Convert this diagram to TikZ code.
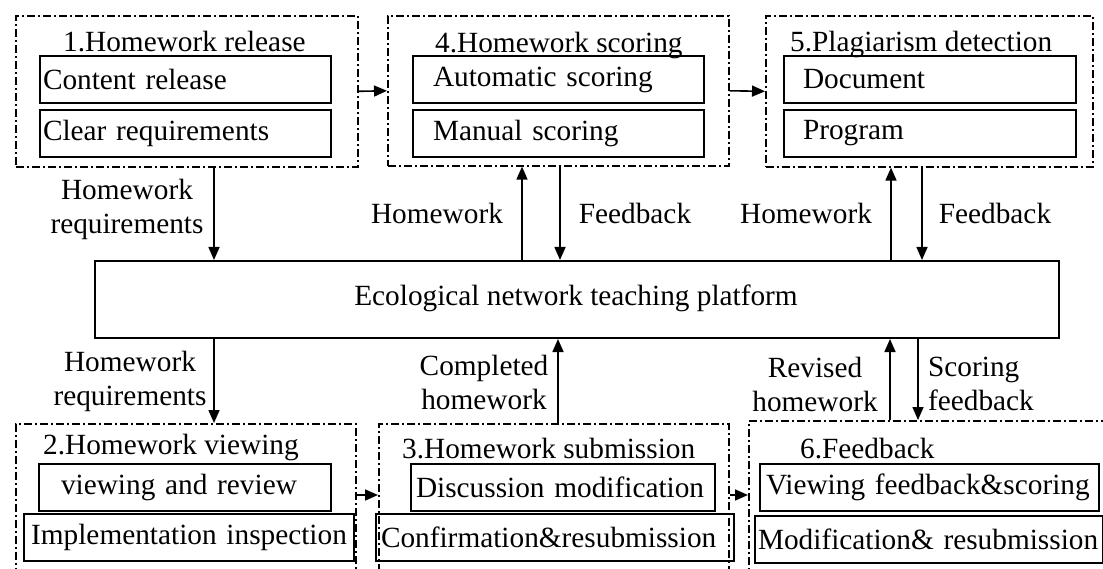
\documentclass[tikz,border=0pt]{standalone}
\usepackage{fontspec}
\setmainfont{Liberation Serif}
\usetikzlibrary{arrows.meta}
\begin{document}
\begin{tikzpicture}[x=1pt,y=-1pt,
 every node/.style={font=\fontsize{29.3}{34}\selectfont},
 outer/.style={draw, line width=1.6pt, dash pattern=on 8pt off 3pt on 2pt off 3pt, anchor=north west, inner sep=0pt},
 inbox/.style={draw, line width=2pt, anchor=north west, minimum height=47pt, inner ysep=0pt, align=left},
 ttl/.style={anchor=base west, inner sep=0pt},
 lbl/.style={align=center, inner sep=0pt},
 arr/.style={line width=1.6pt, -{Triangle[length=13pt,width=11pt]}}]
\useasboundingbox (0,0) rectangle (1103,569);
\clip (0,0) rectangle (1103,569);

% top groups
\node[outer, minimum width=342pt, minimum height=151pt] (b1) at (15,15) {};
\node[ttl] (t1) at (63,52) {1.Homework release};
\node[inbox, inner xsep=3pt, text width=285pt] (cr) at (39,55) {\mbox{Content release}};
\node[inbox, inner xsep=3pt, text width=285pt] (rq) at (39,109) {\mbox{Clear requirements}};

\node[outer, minimum width=341pt, minimum height=150pt] (b4) at (387,15) {};
\node[ttl] (t4) at (435,53) {4.Homework scoring};
\node[inbox, inner xsep=20pt, text width=251pt] (as) at (412,55) {\mbox{Automatic scoring}};
\node[inbox, inner xsep=20pt, text width=251pt] (ms) at (412,109) {\mbox{Manual scoring}};

\node[outer, minimum width=327pt, minimum height=151pt] (b5) at (765,15) {};
\node[ttl] (t5) at (790,52) {5.Plagiarism detection};
\node[inbox, inner xsep=19pt, text width=254pt] (dc) at (783,55) {Document};
\node[inbox, inner xsep=19pt, text width=254pt] (pg) at (783,109) {Program};

% platform
\node[draw, line width=2pt, minimum width=964pt, minimum height=77pt, anchor=north west] (plat) at (94,260) {};
\node[inner sep=0pt] (pt) at (576,298) {Ecological network teaching platform};

% bottom groups
\node[outer, minimum width=340pt, minimum height=200pt] (b2) at (15,423) {};
\node[ttl] (t2) at (43,454) {2.Homework viewing};
\node[inbox, inner xsep=22pt, text width=248pt] (vr) at (38,463) {\mbox{viewing and review}};
\node[inbox, inner xsep=7pt, text width=316pt, align=center] (ii) at (23,513) {\mbox{Implementation inspection}};

\node[outer, minimum width=350pt, minimum height=200pt] (b3) at (378,423) {};
\node[ttl] (t3) at (402,458) {3.Homework submission};
\node[inbox, inner xsep=5pt, text width=294pt] (dm) at (410,463) {\mbox{Discussion modification}};
\node[inbox, inner xsep=5pt, text width=348pt] (cs) at (375,513) {\mbox{Confirmation\&resubmission}};

\node[outer, minimum width=400pt, minimum height=200pt] (b6) at (748,420) {};
\node[ttl] (t6) at (800,458) {6.Feedback};
\node[inbox, inner xsep=6pt, text width=327pt] (vf) at (759,463) {\mbox{Viewing feedback\&scoring}};
\node[inbox, inner xsep=3pt, text width=342pt] (mr) at (754,515) {\mbox{Modification\& resubmission}};

% labels
\node[lbl] (l1) at (127,209) {Homework\\requirements};
\node[lbl] (l2) at (437,213) {Homework};
\node[lbl] (l3) at (635,213) {Feedback};
\node[lbl] (l4) at (806,213) {Homework};
\node[lbl] (l5) at (995,213) {Feedback};
\node[lbl] (l6) at (130,381) {Homework\\requirements};
\node[lbl] (l7) at (484,382) {Completed\\homework};
\node[lbl] (l8) at (815,384) {Revised\\homework};
\node[lbl, align=left] (l9) at (981,384) {Scoring\\feedback};

% connector x positions
\coordinate (xa) at (214,0);
\coordinate (xb) at (522,0);
\coordinate (xc) at (560,0);
\coordinate (xd) at (891,0);
\coordinate (xe) at (922,0);
\coordinate (xf) at (558,0);
\coordinate (xg) at (890,0);
\coordinate (xh) at (918,0);
\coordinate (yb) at (0,495);

% arrows top row
\draw[arr] (b1.east) -- (b4.west);
\draw[arr] (b4.east) -- (b5.west);
\draw[arr] (b1.south -| xa) -- (plat.north -| xa);
\draw[arr] (plat.north -| xb) -- (b4.south -| xb);
\draw[arr] (b4.south -| xc) -- (plat.north -| xc);
\draw[arr] (plat.north -| xd) -- (b5.south -| xd);
\draw[arr] (b5.south -| xe) -- (plat.north -| xe);

% arrows bottom row
\draw[arr] (plat.south -| xa) -- (b2.north -| xa);
\draw[arr] (b3.north -| xf) -- (plat.south -| xf);
\draw[arr] (b6.north -| xg) -- (plat.south -| xg);
\draw[arr] (plat.south -| xh) -- (b6.north -| xh);
\draw[arr] (b2.east |- yb) -- (b3.west |- yb);
\draw[arr] (b3.east |- yb) -- (b6.west |- yb);
\end{tikzpicture}
\end{document}
